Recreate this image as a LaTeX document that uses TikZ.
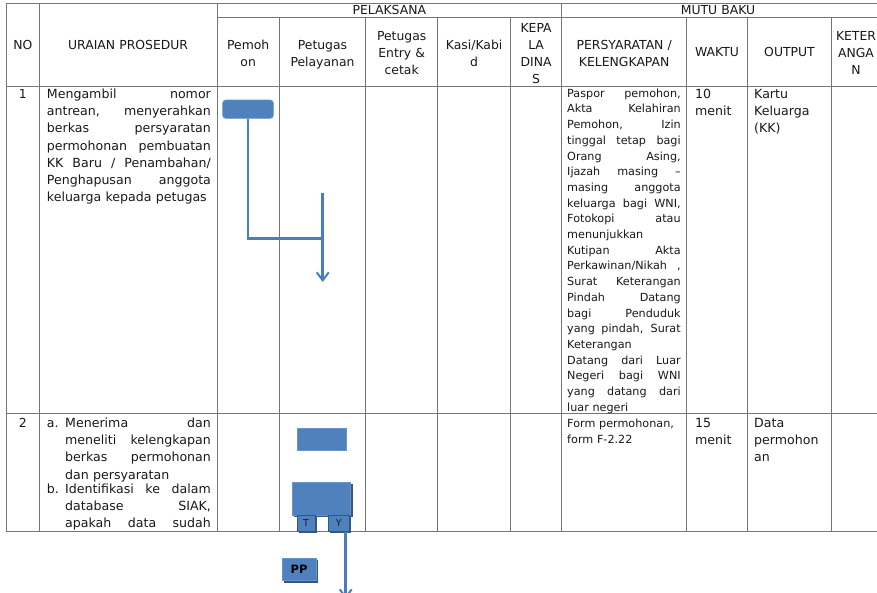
\documentclass[tikz,border=0pt]{standalone}
\usepackage{fontspec}
\setmainfont{DejaVu Sans}
\usetikzlibrary{arrows.meta,shadows}
\definecolor{tgray}{RGB}{118,118,118}
\definecolor{fblue}{HTML}{4F81BD}
\definecolor{eblue}{HTML}{6A94C8}
\definecolor{sblue}{HTML}{35577F}
\definecolor{cblue}{HTML}{4A7EBB}
\definecolor{txt}{RGB}{25,25,25}
\newcommand\jline[1]{{\spaceskip=0pt\xspaceskip=0pt\makebox[\hsize][s]{#1}}}
\hbadness=10000 \hfuzz=6pt
\begin{document}
\begin{tikzpicture}[x=1pt,y=-1pt,
  tline/.style={draw=tgray,line width=0.9pt},
  hdr/.style={font=\fontsize{12.4}{17}\selectfont,text=txt,inner sep=0pt,anchor=base,align=center,text width=#1},
  hdr/.default=70pt,
  body/.style={font=\fontsize{12.6}{17.2}\selectfont,text=txt,inner sep=0pt,anchor=base west,align=left,text width=#1},
  persy/.style={font=\fontsize{11.2}{15.7}\selectfont,text=txt,inner sep=0pt,anchor=base west,align=left,text width=#1},
  blk/.style={fill=fblue,draw=eblue,line width=0.6pt,inner sep=0pt},
  shd/.style={drop shadow={shadow xshift=1.8pt,shadow yshift=-1.8pt,fill=sblue,opacity=1}},
  conn/.style={draw=cblue,line width=2.5pt},
  tytext/.style={font=\fontsize{9.5}{11}\selectfont,text={rgb,255:red,20;green,30;blue,50}}
]
\useasboundingbox (0,0) rectangle (877,593);
\fill[white] (0,0) rectangle (877,593);
\clip (0,0) rectangle (877,593);

% table grid
\draw[tline] (6.3,3.3) -- (885,3.3);
\draw[tline] (217,17.3) -- (885,17.3);
\draw[tline] (6.3,86) -- (885,86);
\draw[tline] (6.3,413.8) -- (885,413.8);
\draw[tline] (6.3,531.3) -- (885,531.3);
\foreach \xx in {6.3,39.3,217,561.7}
  \draw[tline] (\xx,3.3) -- (\xx,531.3);
\foreach \xx in {279.3,365.7,437.7,510.5,686.7,747.3,831.7}
  \draw[tline] (\xx,17.3) -- (\xx,531.3);

% header
\node[hdr=30pt] (hNO) at (22.8,49.5) {NO};
\node[hdr=170pt] (hUR) at (128.1,49.5) {URAIAN PROSEDUR};
\node[hdr=200pt] (hPL) at (389.3,14.5) {PELAKSANA};
\node[hdr=200pt] (hMB) at (718,14.5) {MUTU BAKU};
\node[hdr] (hPe) at (248.2,49.5) {Pemoh\\on};
\node[hdr] (hPP) at (322.5,49.5) {Petugas\\Pelayanan};
\node[hdr] (hEC) at (401.7,40.5) {Petugas\\Entry \&\\cetak};
\node[hdr] (hKK) at (474.1,49.5) {Kasi/Kabi\\d};
\node[hdr] (hKD) at (536.1,32.5) {KEPA\\LA\\DINA\\S};
\node[hdr=120pt] (hPK) at (624.2,49.5) {PERSYARATAN /\\KELENGKAPAN};
\node[hdr] (hW) at (717,57) {WAKTU};
\node[hdr] (hO) at (789.5,57) {OUTPUT};
\node[hdr] (hKt) at (856,40.5) {KETER\\ANGA\\N};

% row 1
\node[hdr=20pt] (n1) at (22.8,98.5) {1};
\node[body=164pt] (u1) at (46.7,98.5) {\jline{Mengambil nomor}\\\jline{antrean, menyerahkan}\\\jline{berkas persyaratan}\\\jline{permohonan pembuatan}\\\jline{KK Baru / Penambahan/}\\\jline{Penghapusan anggota}\\keluarga kepada petugas};
\node[persy=113.5pt] (r1) at (567,97.3) {\jline{Paspor pemohon,}\\\jline{Akta Kelahiran}\\\jline{Pemohon, Izin}\\\jline{tinggal tetap bagi}\\\jline{Orang Asing,}\\\jline{Ijazah masing –}\\\jline{masing anggota}\\\jline{keluarga bagi WNI,}\\\jline{Fotokopi atau}\\menunjukkan\\\jline{Kutipan Akta}\\\jline{Perkawinan/Nikah ,}\\\jline{Surat Keterangan}\\\jline{Pindah Datang}\\\jline{bagi Penduduk}\\\jline{yang pindah, Surat}\\Keterangan\\\jline{Datang dari Luar}\\\jline{Negeri bagi WNI}\\\jline{yang datang dari}\\luar negeri};
\node[body=55pt] (w1) at (695,98.5) {10\\menit};
\node[body=75pt] (o1) at (754,98.5) {Kartu\\Keluarga\\(KK)};

% row 2
\node[hdr=20pt] (n2) at (22.8,427.5) {2};
\node[body=14pt] (la) at (46.7,427.5) {a.};
\node[body=145.7pt] (ua) at (65,427.5) {\jline{Menerima dan}\\\jline{meneliti kelengkapan}\\\jline{berkas permohonan}\\dan persyaratan};
\node[body=14pt] (lb) at (46.7,493.2) {b.};
\node[body=145.7pt] (ub) at (65,493.2) {\jline{Identifikasi ke dalam}\\\jline{database SIAK,}\\\jline{apakah data sudah}};
\node[persy=118pt,font=\fontsize{11.2}{16}\selectfont] (r2) at (567,427.5) {Form permohonan,\\form F-2.22};
\node[body=55pt] (w2) at (695,427.5) {15\\menit};
\node[body=75pt] (o2) at (754,427.5) {Data\\permohon\\an};

% flowchart row 1
\node[blk,rounded corners=3pt,minimum width=50.6pt,minimum height=18.3pt] (s1) at (248,109.2) {};
\coordinate (j1) at (322.7,238.3);
\coordinate (v1a) at (322.7,193.3);
\coordinate (v1b) at (322.7,282);
\draw[conn] (s1.south) |- (j1);
\draw[conn,-{Straight Barb[length=8pt,width=12pt,line width=2pt]}] (v1a) -- (v1b);

% flowchart row 2
\node[blk,minimum width=48.7pt,minimum height=22.4pt] (p1) at (321.65,439.5) {};
\node[blk,shd,minimum width=58.2pt,minimum height=32.7pt] (d1) at (321.6,498.65) {};
\node[blk,shd,draw=sblue,minimum width=18pt,minimum height=16.5pt,tytext] (tb) at (306,523.25) {T};
\node[blk,shd,draw=sblue,minimum width=20.7pt,minimum height=16.5pt,tytext] (yb) at (338.65,523.25) {Y};
\coordinate (l2a) at (345.7,531.5);
\coordinate (l2b) at (345.7,599);
\draw[conn,-{Straight Barb[length=8pt,width=12pt,line width=2pt]}] (l2a) -- (l2b);
\node[blk,shd,minimum width=34pt,minimum height=22.4pt,font=\fontsize{11.5}{13}\selectfont\bfseries,text=black] (pp) at (299,569.5) {PP};
\end{tikzpicture}
\end{document}
